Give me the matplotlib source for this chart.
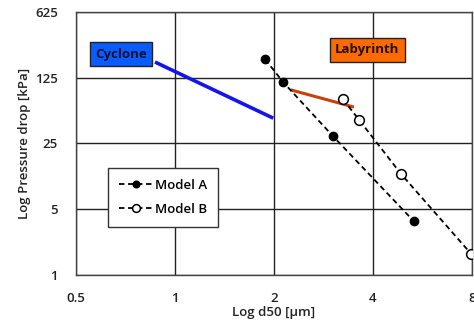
import numpy as np
import matplotlib
matplotlib.use('Agg')
import matplotlib.pyplot as plt

plt.rcParams['font.family'] = ['Open Sans', 'DejaVu Sans']

# values (log-log axes)
model_a_d50 = [1.88, 2.13, 3.02, 5.33]
model_a_dp = [197, 113, 30, 3.7]
model_b_d50 = [3.24, 3.63, 4.87, 7.95]
model_b_dp = [74, 44.5, 11.8, 1.67]
cyclone_d50 = [0.87, 1.99]
cyclone_dp = [184, 46.5]
labyrinth_d50 = [2.25, 3.5]
labyrinth_dp = [93, 61]

x_ticks = [0.5, 1, 2, 4, 8]
x_ticklabels = ['0.5', '1', '2', '4', '8']
y_ticks = [1, 5, 25, 125, 625]
y_ticklabels = ['1', '5', '25', '125', '625']

fig = plt.figure(figsize=(4.74, 3.28), dpi=100)
ax = fig.add_axes([0.160, 0.162, 0.836, 0.801])

ax.set_xscale('log', base=2)
ax.set_yscale('log', base=5)
ax.set_xlim(0.5, 8)
ax.set_ylim(1, 625)

ax.plot(cyclone_d50, cyclone_dp, color='#1414F0', lw=2.6, solid_capstyle='butt', zorder=3)
ax.plot(labyrinth_d50, labyrinth_dp, color='#C8400A', lw=2.2, solid_capstyle='butt', zorder=3)

ax.plot(model_a_d50, model_a_dp, color='black', ls=(0, (3, 2)), lw=1.3,
        marker='o', ms=6, mfc='black', mec='black', label='Model A', zorder=4)
ax.plot(model_b_d50, model_b_dp, color='black', ls=(0, (3, 2)), lw=1.3,
        marker='o', ms=7, mfc='white', mec='black', mew=1.1, label='Model B', zorder=4)

ax.set_xticks(x_ticks)
ax.set_xticklabels(x_ticklabels)
ax.set_yticks(y_ticks)
ax.set_yticklabels(y_ticklabels)
ax.minorticks_off()
ax.tick_params(length=0, labelsize=9.5, pad=13)
ax.tick_params(axis='x', pad=12)
for lab in ax.get_xticklabels() + ax.get_yticklabels():
    lab.set_fontweight('semibold')
    lab.set_color('#222222')

ax.grid(True, color='#222222', lw=1.0)
ax.set_axisbelow(True)
for s in ax.spines.values():
    s.set_color('#444444')
    s.set_linewidth(1.0)

ax.set_xlabel('Log d50 [\u03bcm]', fontsize=9.5, fontweight='semibold', color='#222222', labelpad=1)
ax.set_ylabel('Log Pressure drop [kPa]', fontsize=9.5, fontweight='semibold', color='#222222', labelpad=3)

ax.text(0.114, 0.840, 'Cyclone', transform=ax.transAxes, fontsize=9.5, fontweight='bold',
        ha='center', va='center', color='#111133',
        bbox=dict(boxstyle='square,pad=0.4', fc='#0A5CFF', ec='#222222', lw=1.0))
ax.text(0.735, 0.856, 'Labyrinth', transform=ax.transAxes, fontsize=9.5, fontweight='bold',
        ha='center', va='center', color='#221100',
        bbox=dict(boxstyle='square,pad=0.4', fc='#FF6A00', ec='#222222', lw=1.0))

leg = ax.legend(loc='lower left', bbox_to_anchor=(0.081, 0.183), borderaxespad=0,
                fontsize=9.5, frameon=True, fancybox=False, edgecolor='#333333',
                framealpha=1, handlelength=2.5, handletextpad=0.2, borderpad=0.85,
                labelspacing=0.8, markerscale=0.8)
leg.get_frame().set_linewidth(1.0)
for t in leg.get_texts():
    t.set_fontweight('semibold')

fig.savefig('out.png', dpi=100)
